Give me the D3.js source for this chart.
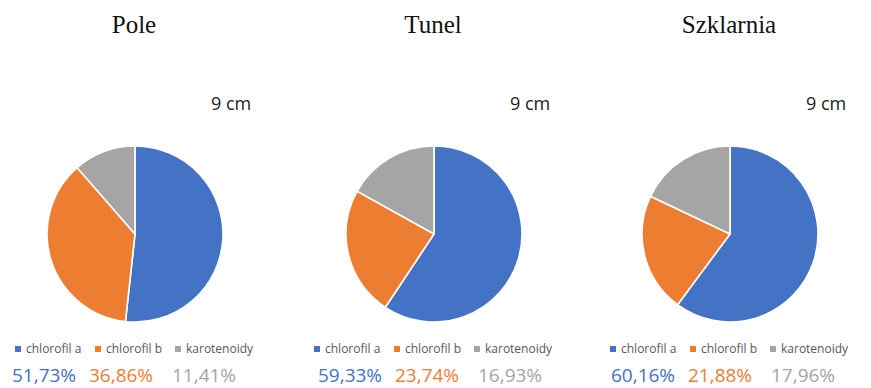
<!DOCTYPE html>
<html>
<head>
<meta charset="utf-8">
<script src="https://cdn.jsdelivr.net/npm/d3@7"></script>
<style>
  html, body { margin: 0; padding: 0; background: #fff; }
  svg { display: block; }
</style>
</head>
<body>
<svg id="chart" width="871" height="388"></svg>
<script>
// Pigment shares (%) at 9 cm for each growing environment
const sites = ["Pole", "Tunel", "Szklarnia"];
const pigments = ["chlorofil a", "chlorofil b", "karotenoidy"];
const poleValues = [51.73, 36.86, 11.41];
const tunelValues = [59.33, 23.74, 16.93];
const szklarniaValues = [60.16, 21.88, 17.96];
const depthLabel = "9 cm";
const colors = ["#4472C4", "#ED7D31", "#A5A5A5"];

const siteValues = [poleValues, tunelValues, szklarniaValues];

const svg = d3.select("#chart");
const centerX = d3.scaleOrdinal().domain(sites).range([135, 434, 730]);
const pctOffset = { "Pole": -123, "Tunel": -116, "Szklarnia": -119 };
const cy = 234, r = 88;

const color = d3.scaleOrdinal().domain(pigments).range(colors);
const pie = d3.pie().sort(null).value(d => d.value);
const arc = d3.arc().innerRadius(0).outerRadius(r);
const fmt = v => v.toFixed(2).replace(".", ",") + "%";

sites.forEach((site, i) => {
  const cx = centerX(site);
  const data = pigments.map((p, j) => ({ name: p, value: siteValues[i][j] }));
  const g = svg.append("g");

  // title
  g.append("text")
    .attr("x", cx - 1).attr("y", 33)
    .attr("text-anchor", "middle")
    .attr("font-family", "'Liberation Serif', 'Times New Roman', serif")
    .attr("font-size", 25)
    .attr("fill", "#111")
    .text(site);

  // depth label
  g.append("text")
    .attr("x", cx + 76).attr("y", 110)
    .attr("font-family", "'Open Sans', sans-serif")
    .attr("font-size", 18)
    .attr("fill", "#222")
    .text(depthLabel);

  // pie slices
  g.append("g")
    .attr("transform", `translate(${cx},${cy})`)
    .selectAll("path")
    .data(pie(data))
    .join("path")
    .attr("d", arc)
    .attr("fill", d => color(d.data.name))
    .attr("stroke", "#fff")
    .attr("stroke-width", 1.6);

  // legend
  const legendX = [0, 80, 160];
  const lg = g.append("g").attr("transform", `translate(${cx - 120},349)`);
  const item = lg.selectAll("g").data(pigments).join("g")
    .attr("transform", (d, j) => `translate(${legendX[j]},0)`);
  item.append("rect")
    .attr("x", 0).attr("y", -3).attr("width", 6).attr("height", 6)
    .attr("fill", d => color(d));
  item.append("text")
    .attr("x", 11).attr("y", 4)
    .attr("font-family", "'Open Sans', sans-serif")
    .attr("font-size", 12)
    .attr("fill", "#595959")
    .text(d => d);

  // percentage labels
  const pctX = [0, 77, 160];
  g.append("g").attr("transform", `translate(${cx + pctOffset[site]},382)`)
    .selectAll("text").data(data).join("text")
    .attr("x", (d, j) => pctX[j])
    .attr("font-family", "'Open Sans', sans-serif")
    .attr("font-size", 19)
    .attr("fill", d => color(d.name))
    .text(d => fmt(d.value));
});
</script>
</body>
</html>
